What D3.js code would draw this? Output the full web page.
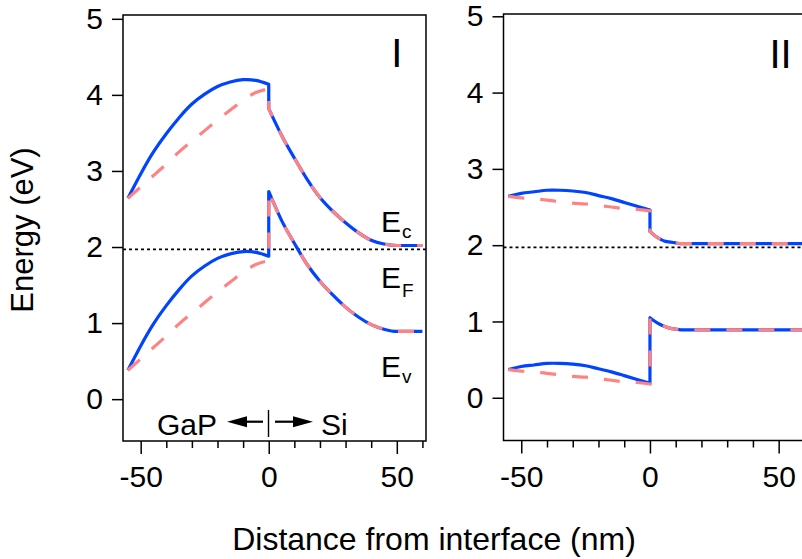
<!DOCTYPE html>
<html><head><meta charset="utf-8">
<script src="https://cdn.jsdelivr.net/npm/d3@7"></script>
<style>
body{margin:0;background:#fff}
text{font-family:"Liberation Sans",Arial,Helvetica,sans-serif;fill:#000}
</style>
</head><body>
<svg id="c" width="802" height="559" xmlns="http://www.w3.org/2000/svg"></svg>
<script>
// ---------- data ----------
const xGaP  = [-55,-50,-45,-40,-35,-30,-25,-20,-15,-10,-5,0];
const xSiI  = [0,5,10,15,20,25,30,35,40,45,50,55,60];
const xSiII = [0,2,4,6,8,10,12,15,20,30,40,50,60];

// Panel I
const ecSolidI_GaP = [2.64,2.96,3.25,3.49,3.70,3.88,4.01,4.11,4.17,4.20,4.19,4.14];
const evSolidI_GaP = [0.38,0.70,0.99,1.23,1.44,1.62,1.75,1.85,1.91,1.94,1.93,1.88];
const ecDashI_GaP  = [2.64,2.79,2.94,3.09,3.25,3.39,3.53,3.67,3.80,3.93,4.03,4.08];
const evDashI_GaP  = [0.38,0.53,0.68,0.83,0.99,1.13,1.27,1.41,1.54,1.67,1.77,1.82];
const ecI_Si = [3.82,3.47,3.17,2.89,2.65,2.47,2.32,2.19,2.09,2.04,2.02,2.02,2.02];
const evI_Si = [2.73,2.35,2.05,1.77,1.55,1.37,1.21,1.08,0.98,0.92,0.89,0.89,0.89];

// Panel II
const ecSolidII_GaP = [2.64,2.68,2.70,2.72,2.72,2.71,2.69,2.65,2.61,2.56,2.51,2.46];
const evSolidII_GaP = [0.37,0.41,0.43,0.45,0.45,0.44,0.42,0.38,0.34,0.29,0.24,0.19];
const ecDashII_GaP  = [2.64,2.62,2.61,2.59,2.57,2.55,2.54,2.52,2.50,2.48,2.47,2.45];
const evDashII_GaP  = [0.37,0.35,0.34,0.32,0.30,0.28,0.27,0.25,0.23,0.21,0.20,0.18];
const ecII_Si = [2.18,2.12,2.08,2.05,2.04,2.03,2.02,2.02,2.02,2.02,2.02,2.02,2.02];
const evII_Si = [1.05,1.00,0.96,0.93,0.91,0.90,0.89,0.89,0.89,0.89,0.89,0.89,0.89];

const fermiLevel = 1.97;
const yTicks = [0,1,2,3,4,5];
const xMajorTicks = [-50,0,50];
const xMinorTicks = [-40,-30,-20,-10,10,20,30,40,60];
const panelLabels = ["I","II"];

// ---------- layout ----------
const svg = d3.select("#c");
svg.append("rect").attr("width",802).attr("height",559).attr("fill","#fff");

const BLUE = "#0044ff", PINK = "#ff8383";
const fmt = d => String(d).replace("\u2212","-");

const panels = [
  {left:123, right:426, top:15, bottom:441, yDom:[-0.55,5.05], label:panelLabels[0], lx:396.7, ly:67,
   ecS:ecSolidI_GaP, evS:evSolidI_GaP, ecD:ecDashI_GaP, evD:evDashI_GaP, xSi:xSiI, ecSi:ecI_Si, evSi:evI_Si},
  {left:503.5, right:808, top:14, bottom:440.5, yDom:[-0.56,5.03], label:panelLabels[1], lx:780.5, ly:68,
   ecS:ecSolidII_GaP, evS:evSolidII_GaP, ecD:ecDashII_GaP, evD:evDashII_GaP, xSi:xSiII, ecSi:ecII_Si, evSi:evII_Si}
];

panels.forEach(p => {
  const x = d3.scaleLinear().domain([-56.9,61.4]).range([p.left,p.right]);
  const y = d3.scaleLinear().domain(p.yDom).range([p.bottom,p.top]);
  const g = svg.append("g");

  const lineA = d3.line().x(d=>x(d[0])).y(d=>y(d[1])).curve(d3.curveNatural);
  const lineB = d3.line().x(d=>x(d[0])).y(d=>y(d[1])).curve(d3.curveMonotoneX);
  const band = (xa, ya, xb, yb) => lineA(d3.zip(xa,ya)) + lineB(d3.zip(xb,yb)).replace(/^M/,"L");

  // Fermi level
  g.append("line").attr("x1",p.left).attr("x2",p.right)
    .attr("y1",y(fermiLevel)).attr("y2",y(fermiLevel))
    .attr("stroke","#000").attr("stroke-width",1.8).attr("stroke-dasharray","3,3");

  // solid blue
  [[p.ecS,p.ecSi],[p.evS,p.evSi]].forEach(([a,b]) => {
    g.append("path").attr("d",band(xGaP,a,p.xSi,b)).attr("fill","none")
      .attr("stroke",BLUE).attr("stroke-width",3.2).attr("stroke-linejoin","round");
  });
  // dashed pink
  [[p.ecD,p.ecSi],[p.evD,p.evSi]].forEach(([a,b]) => {
    g.append("path").attr("d",band(xGaP,a,p.xSi,b)).attr("fill","none")
      .attr("stroke",PINK).attr("stroke-width",3.2).attr("stroke-dasharray","16,16");
  });

  // frame
  g.append("rect").attr("x",p.left).attr("y",p.top).attr("width",p.right-p.left)
    .attr("height",p.bottom-p.top).attr("fill","none").attr("stroke","#000").attr("stroke-width",1.5);

  // y axis
  const ya = g.append("g").attr("transform",`translate(${p.left},0)`)
    .call(d3.axisLeft(y).tickValues(yTicks).tickFormat(fmt).tickSize(11).tickPadding(9).tickSizeOuter(0));
  // x axis
  const xa = g.append("g").attr("transform",`translate(0,${p.bottom})`)
    .call(d3.axisBottom(x).tickValues(xMajorTicks).tickFormat(fmt).tickSize(13).tickPadding(12).tickSizeOuter(0));
  const xm = g.append("g").attr("transform",`translate(0,${p.bottom})`)
    .call(d3.axisBottom(x).tickValues(xMinorTicks).tickFormat("").tickSize(7).tickSizeOuter(0));
  [ya,xa,xm].forEach(a => {
    a.select(".domain").remove();
    a.selectAll("line").attr("stroke","#000").attr("stroke-width",1.5);
    a.selectAll("text").attr("font-size",30).attr("font-family","Liberation Sans, Arial, sans-serif").attr("fill","#000");
  });

  g.append("text").attr("x",p.lx).attr("y",p.ly).attr("text-anchor","middle")
    .attr("font-size",40).text(p.label);
});

// Band labels (panel I)
function bandLabel(tx, ty, sub, dy) {
  const t = svg.append("text").attr("x",tx).attr("y",ty).attr("font-size",30);
  t.append("tspan").text("E");
  t.append("tspan").attr("font-size",19).attr("dy",dy).attr("dx",1).text(sub);
}
bandLabel(381, 232, "c", 6);
bandLabel(381, 288, "F", 9);
bandLabel(381, 376.5, "v", 6.5);

// GaP | Si annotation
svg.append("text").attr("x",157).attr("y",435).attr("font-size",30).text("GaP");
svg.append("text").attr("x",321).attr("y",435).attr("font-size",30).text("Si");
svg.append("line").attr("x1",244).attr("x2",263).attr("y1",421.7).attr("y2",421.7).attr("stroke","#000").attr("stroke-width",2.2);
svg.append("path").attr("d","M227,421.7 L247,416.2 L247,427.2 Z").attr("fill","#000");
svg.append("line").attr("x1",275).attr("x2",296).attr("y1",421.7).attr("y2",421.7).attr("stroke","#000").attr("stroke-width",2.2);
svg.append("path").attr("d","M313,421.7 L293,416.2 L293,427.2 Z").attr("fill","#000");
svg.append("line").attr("x1",268.5).attr("x2",268.5).attr("y1",410).attr("y2",437).attr("stroke","#000").attr("stroke-width",1.4);

// Axis titles
svg.append("text").attr("x",434).attr("y",550).attr("text-anchor","middle").attr("font-size",32)
  .text("Distance from interface (nm)");
svg.append("text").attr("transform","translate(33,230) rotate(-90)").attr("text-anchor","middle")
  .attr("font-size",31).text("Energy (eV)");
</script>
</body></html>
